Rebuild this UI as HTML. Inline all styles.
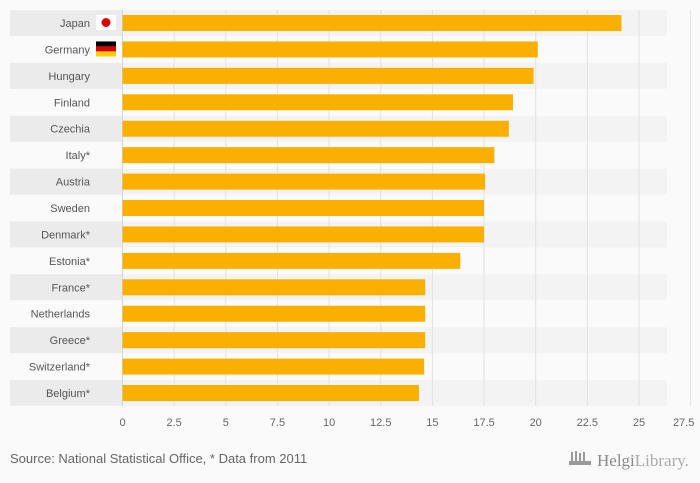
<!DOCTYPE html>
<html><head><meta charset="utf-8"><style>
body{margin:0;background:#fafafa;font-family:"Liberation Sans",sans-serif}
svg{display:block}
</style></head><body>
<svg id="c" width="700" height="483" xmlns="http://www.w3.org/2000/svg">
<rect width="700" height="483" fill="#fafafa"/>
<g id="g"></g>
<text x="10" y="463" font-size="13" fill="#666">Source: National Statistical Office, * Data from 2011</text>
<g>
<g fill="#999"><rect x="571" y="452" width="2" height="10"/><rect x="575" y="451" width="2" height="11"/><rect x="579" y="453" width="2" height="9"/><rect x="583" y="452" width="2" height="10"/><rect x="569" y="461" width="22" height="4"/></g>
<text x="597" y="466" font-size="17" fill="#888" font-family="Liberation Serif,serif">Helgi<tspan fill="#aaa">Library.</tspan></text>
</g>
</svg>
<script>
const categories=["Japan","Germany","Hungary","Finland","Czechia","Italy*","Austria","Sweden","Denmark*","Estonia*","France*","Netherlands","Greece*","Switzerland*","Belgium*"];
const values=[24.15,20.1,19.9,18.9,18.7,18.0,17.55,17.5,17.5,16.35,14.65,14.65,14.65,14.6,14.35];
const ticks=[0,2.5,5,7.5,10,12.5,15,17.5,20,22.5,25,27.5];
const NS="http://www.w3.org/2000/svg";
const g=document.getElementById('g');
const x0=122.5,scale=20.66,top0=10,pitch=26.43;
const X=v=>x0+v*scale;
const Y=i=>top0+i*pitch;
function mk(t,a){const e=document.createElementNS(NS,t);for(const k in a)e.setAttribute(k,a[k]);g.appendChild(e);return e;}
categories.forEach((c,i)=>{
 if(i%2===0){
  const lb=mk('rect',{x:10,y:Y(i),width:112,height:26,fill:'#ebebeb'});
  
  
  const bd=mk('rect',{x:122,y:Y(i),width:545,height:26,fill:'#f3f3f3'});
  
  
 }
});
ticks.forEach((t,i)=>{
 const l=mk('line',{x1:X(t),x2:X(t),y1:10,y2:406,stroke:i===0?'#ccd6eb':'#e2e2e2','stroke-width':1});
 
 
 const tx=mk('text',{x:i===ticks.length-1?X(t)-7:X(t),y:426,'font-size':11,fill:'#666','text-anchor':'middle'});
 tx.textContent=String(t);
 
 
});
categories.forEach((c,i)=>{
 const b=mk('rect',{x:X(0),y:Y(i)+5,width:X(values[i])-X(0),height:16,fill:'#fbb000'});
 
 
 const t=mk('text',{x:90,y:Y(i)+17,'font-size':11,fill:'#555','text-anchor':'end'});
 t.textContent=c;
 
 
});
// flags
const fj=mk('rect',{x:96,y:Y(0)+5,width:20,height:15,fill:'#fff'});


const fc=mk('circle',{cx:106,cy:Y(0)+12.5,r:4.5,fill:'#d00'});


['#000','#d00','#fc0'].forEach((col,k)=>{
 const r=mk('rect',{x:96,y:Y(1)+5+k*5,width:20,height:5,fill:col});
 
 
});
</script>
</body></html>
